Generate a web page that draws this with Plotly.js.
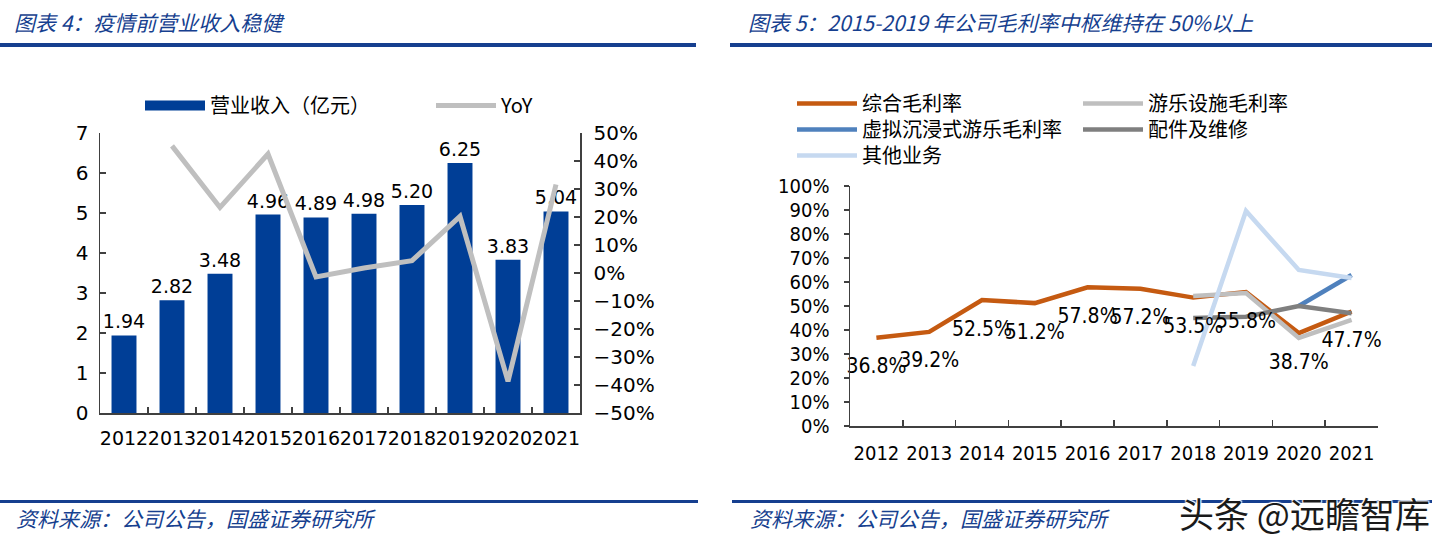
<!DOCTYPE html>
<html>
<head>
<meta charset="utf-8">
<script src="https://cdn.plot.ly/plotly-3.0.1.min.js"></script>
<style>
  html, body { margin: 0; padding: 0; background: #fff; }
  #chart { width: 1446px; height: 548px; }
</style>
</head>
<body>
<div id="chart"></div>
<script>
// left chart: revenue + yoy
var years = ['2012', '2013', '2014', '2015', '2016', '2017', '2018', '2019', '2020', '2021'];
var revenue = [1.94, 2.82, 3.48, 4.96, 4.89, 4.98, 5.20, 6.25, 3.83, 5.04];
var yoy = [null, 0.454, 0.234, 0.425, -0.014, 0.018, 0.044, 0.202, -0.387, 0.316];

// right chart: gross margins
var grossAll = [0.368, 0.392, 0.525, 0.512, 0.578, 0.572, 0.535, 0.558, 0.387, 0.477];
var gmRides = [null, null, null, null, null, null, 0.542, 0.554, 0.367, 0.442];
var gmVR = [null, null, null, null, null, null, null, null, 0.50, 0.629];
var gmParts = [null, null, null, null, null, null, 0.45, 0.455, 0.50, 0.47];
var gmOther = [null, null, null, null, null, null, 0.25, 0.896, 0.65, 0.617];

var W = 1446, H = 548;
function px(x) { return x / W; }
function py(y) { return 1 - y / H; }

var BLUE = '#003E96';
var HEAD = '#163F8F';
var numFont = 'DejaVu Sans, Verdana, sans-serif';
var numFont2 = 'DejaVu Sans Condensed, DejaVu Sans, sans-serif';
var cjkFont = 'Noto Sans CJK SC, sans-serif';

var data = [
    {
        x: years, y: revenue, type: 'bar', name: '营业收入（亿元）', showlegend: false,
        marker: {color: BLUE},
        text: revenue.map(function (v) { return v.toFixed(2); }),
        textposition: 'outside', cliponaxis: false, constraintext: 'none',
        textfont: {family: numFont, size: 19, color: '#000'},
        xaxis: 'x', yaxis: 'y'
    },
    // legend entry only: a wide block like the original bar key
    {
        x: [null], y: [null], type: 'scatter', mode: 'lines', name: '营业收入（亿元）',
        line: {color: BLUE, width: 15},
        xaxis: 'x', yaxis: 'y', legend: 'legend'
    },
    {
        x: years, y: yoy, type: 'scatter', mode: 'lines', name: 'YoY',
        line: {color: '#BFBFBF', width: 5},
        xaxis: 'x', yaxis: 'y2', legend: 'legend'
    },
    {
        x: years, y: grossAll, type: 'scatter', mode: 'lines', name: '综合毛利率',
        line: {color: '#C55A11', width: 4.5},
        xaxis: 'x3', yaxis: 'y3', legend: 'legend2'
    },
    {
        x: years, y: gmRides, type: 'scatter', mode: 'lines', name: '游乐设施毛利率',
        line: {color: '#BFBFBF', width: 4.5},
        xaxis: 'x3', yaxis: 'y3', legend: 'legend3'
    },
    {
        x: years, y: gmVR, type: 'scatter', mode: 'lines', name: '虚拟沉浸式游乐毛利率',
        line: {color: '#4F81BD', width: 4.5},
        xaxis: 'x3', yaxis: 'y3', legend: 'legend4'
    },
    {
        x: years, y: gmParts, type: 'scatter', mode: 'lines', name: '配件及维修',
        line: {color: '#7F7F7F', width: 4.5},
        xaxis: 'x3', yaxis: 'y3', legend: 'legend5'
    },
    {
        x: years, y: gmOther, type: 'scatter', mode: 'lines', name: '其他业务',
        line: {color: '#C6D9F0', width: 4.5},
        xaxis: 'x3', yaxis: 'y3', legend: 'legend6'
    },
    // data labels of the overall margin, pushed below the points by an invisible marker
    {
        x: years, y: grossAll, type: 'scatter', mode: 'markers+text', showlegend: false,
        marker: {size: 30, color: 'rgba(0,0,0,0)'},
        text: grossAll.map(function (v) { return (v * 100).toFixed(1) + '%'; }),
        textposition: 'bottom center', cliponaxis: false,
        textfont: {family: numFont2, size: 21, color: '#000'},
        xaxis: 'x3', yaxis: 'y3'
    }
];

var axisCommon = {
    showgrid: false, zeroline: false, showline: true,
    linecolor: '#404040', linewidth: 1.5,
    ticks: 'inside', ticklen: 6, tickcolor: '#404040', tickwidth: 1.5,
    tickangle: 0
};

var legendFont = {family: cjkFont, size: 20, color: '#000'};

// one small legend per row of the right-hand key, so the rows sit as close as the original
function rowLegend(x, y) {
    return {
        orientation: 'v', x: px(x), y: py(y), xanchor: 'left', yanchor: 'top',
        itemwidth: 60, font: legendFont, bgcolor: 'rgba(0,0,0,0)'
    };
}

var layout = {
    width: W, height: H,
    margin: {l: 0, r: 0, t: 0, b: 0},
    paper_bgcolor: '#fff', plot_bgcolor: 'rgba(0,0,0,0)',
    bargap: 0.48,
    showlegend: true,

    xaxis: Object.assign({}, axisCommon, {
        domain: [px(100), px(580)], anchor: 'y', type: 'category',
        range: [-0.5, 9.5], tickson: 'boundaries', ticklabelstandoff: 8,
        tickfont: {family: numFont, size: 19, color: '#000'}
    }),
    yaxis: Object.assign({}, axisCommon, {
        domain: [py(413), py(133)], anchor: 'x', range: [0, 7], dtick: 1,
        ticklabelstandoff: 6,
        tickfont: {family: numFont, size: 20, color: '#000'}
    }),
    yaxis2: Object.assign({}, axisCommon, {
        overlaying: 'y', side: 'right', anchor: 'x', range: [-0.5, 0.5], dtick: 0.1,
        tickformat: '.0%', ticklabelstandoff: 8,
        tickfont: {family: numFont, size: 20, color: '#000'}
    }),

    xaxis3: Object.assign({}, axisCommon, {
        domain: [px(850), px(1378)], anchor: 'y3', type: 'category',
        range: [-0.5, 9.5], tickson: 'boundaries', ticklabelstandoff: 8,
        tickfont: {family: numFont2, size: 20, color: '#000'}
    }),
    yaxis3: Object.assign({}, axisCommon, {
        domain: [py(426), py(186)], anchor: 'x3', range: [0, 1], dtick: 0.1,
        tickformat: '.0%', ticks: 'outside', ticklen: 5, ticklabelstandoff: 10,
        tickfont: {family: numFont2, size: 20, color: '#000'}
    }),

    legend: {
        orientation: 'h', x: px(140), y: py(86), xanchor: 'left', yanchor: 'top',
        itemwidth: 60, entrywidth: 216, entrywidthmode: 'pixels',
        font: legendFont, bgcolor: 'rgba(0,0,0,0)'
    },
    legend2: rowLegend(792, 84),
    legend3: rowLegend(1078, 84),
    legend4: rowLegend(792, 110),
    legend5: rowLegend(1078, 110),
    legend6: rowLegend(792, 136),

    shapes: [
        {type: 'rect', xref: 'paper', yref: 'paper', x0: 0, x1: px(696), y0: py(47), y1: py(43), fillcolor: HEAD, line: {width: 0}},
        {type: 'rect', xref: 'paper', yref: 'paper', x0: px(730), x1: px(1432), y0: py(47), y1: py(43), fillcolor: HEAD, line: {width: 0}},
        {type: 'rect', xref: 'paper', yref: 'paper', x0: 0, x1: px(698), y0: py(503), y1: py(500), fillcolor: HEAD, line: {width: 0}},
        {type: 'rect', xref: 'paper', yref: 'paper', x0: px(732), x1: px(1432), y0: py(503), y1: py(500), fillcolor: HEAD, line: {width: 0}}
    ],

    annotations: [
        {text: '图表 4：疫情前营业收入稳健', xref: 'paper', yref: 'paper', x: px(12), y: py(22),
         xanchor: 'left', yanchor: 'middle', showarrow: false,
         font: {family: cjkFont, size: 21, color: HEAD, style: 'italic'}},
        {text: '图表 5：2015-2019 年公司毛利率中枢维持在 50%以上', xref: 'paper', yref: 'paper', x: px(746), y: py(22),
         xanchor: 'left', yanchor: 'middle', showarrow: false,
         font: {family: cjkFont, size: 21, color: HEAD, style: 'italic'}},
        {text: '资料来源：公司公告，国盛证券研究所', xref: 'paper', yref: 'paper', x: px(14), y: py(518),
         xanchor: 'left', yanchor: 'middle', showarrow: false,
         font: {family: cjkFont, size: 21, color: HEAD, style: 'italic'}},
        {text: '资料来源：公司公告，国盛证券研究所', xref: 'paper', yref: 'paper', x: px(748), y: py(518),
         xanchor: 'left', yanchor: 'middle', showarrow: false,
         font: {family: cjkFont, size: 21, color: HEAD, style: 'italic'}},
        {text: '头条 @远瞻智库', xref: 'paper', yref: 'paper', x: px(1432), y: py(512),
         xanchor: 'right', yanchor: 'middle', showarrow: false,
         font: {family: cjkFont, size: 35, color: '#1a1a1a',
                shadow: '1px 1px 1px #fff, -1px -1px 1px #fff, 1px -1px 1px #fff, -1px 1px 1px #fff'}}
    ]
};

Plotly.newPlot('chart', data, layout, {displayModeBar: false, staticPlot: true});
</script>
</body>
</html>
